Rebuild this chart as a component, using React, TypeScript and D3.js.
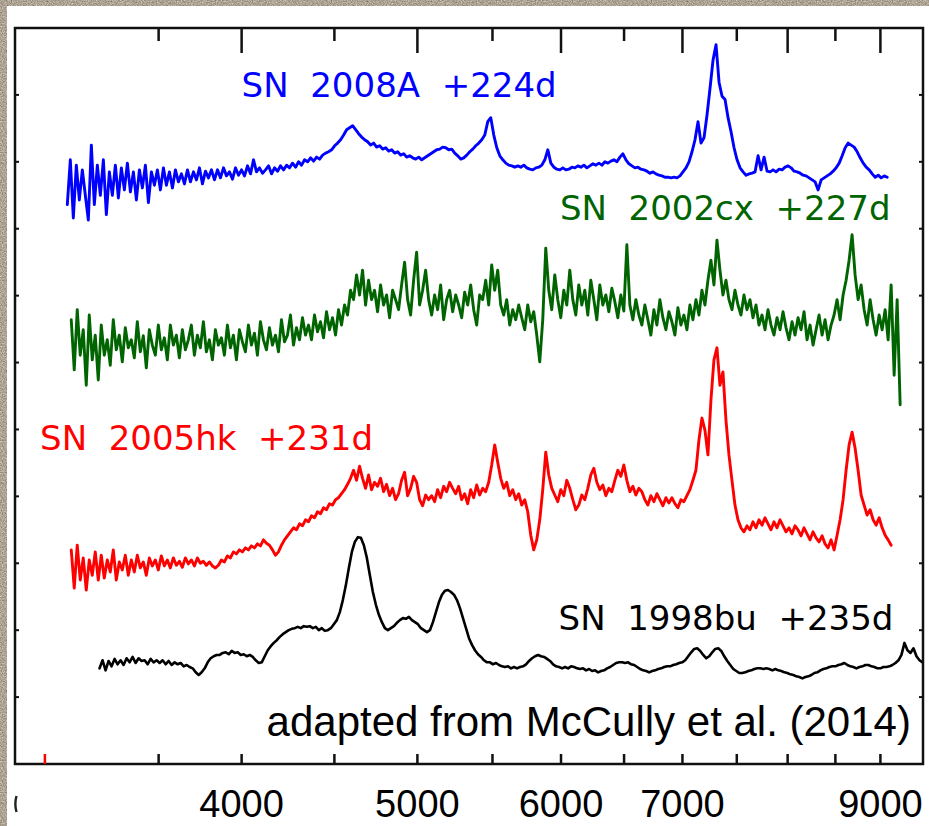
import React from 'react';
import * as d3 from 'd3';

// Late-time spectra, resampled onto a common log-wavelength grid
// (constant velocity step). Flux is scaled and offset for display.
const C_KMS = 299792.458;
const VELOCITY_STEP_KMS = 1143;

const spectrumLabels = ['SN  2008A  +224d', 'SN  2002cx  +227d', 'SN  2005hk  +231d', 'SN  1998bu  +235d'];
const spectrumColors = ['#0000ff', '#006400', '#ff0000', '#000000'];
const spectrumStartWave = [3206, 3222, 3222, 3340];

const flux2008A = [
  8.36, 9.03, 8.16, 8.95, 8.43, 8.88, 8.50, 8.13, 9.25, 8.36,
  8.95, 8.50, 9.03, 8.21, 8.85, 8.50, 8.95, 8.46, 8.91, 8.58,
  8.98, 8.55, 8.85, 8.43, 8.88, 8.61, 8.95, 8.39, 8.85, 8.65,
  8.88, 8.58, 8.91, 8.65, 8.85, 8.61, 8.88, 8.70, 8.82, 8.67,
  8.88, 8.70, 8.85, 8.73, 8.91, 8.67, 8.86, 8.76, 8.88, 8.73,
  8.88, 8.76, 8.91, 8.79, 8.85, 8.74, 8.91, 8.80, 8.88, 8.79,
  8.94, 8.82, 9.03, 8.85, 8.91, 8.83, 8.88, 8.94, 8.82, 8.91,
  8.86, 8.94, 8.88, 8.95, 8.91, 8.98, 8.92, 9.00, 8.95, 9.03,
  9.00, 9.06, 9.01, 9.07, 9.04, 9.10, 9.13, 9.15, 9.18, 9.24,
  9.28, 9.33, 9.40, 9.48, 9.51, 9.54, 9.48, 9.42, 9.37, 9.33,
  9.30, 9.25, 9.28, 9.22, 9.24, 9.19, 9.21, 9.16, 9.18, 9.13,
  9.15, 9.10, 9.12, 9.07, 9.09, 9.06, 9.04, 9.07, 9.03, 9.06,
  9.09, 9.12, 9.15, 9.18, 9.19, 9.22, 9.21, 9.18, 9.19, 9.13,
  9.09, 9.04, 9.06, 9.10, 9.15, 9.19, 9.24, 9.28, 9.33, 9.40,
  9.60, 9.66, 9.40, 9.21, 9.09, 9.03, 8.98, 8.95, 8.94, 8.92,
  8.94, 8.92, 8.95, 8.91, 8.89, 8.88, 8.91, 8.92, 8.95, 9.03,
  9.18, 8.98, 8.92, 8.89, 8.88, 8.91, 8.88, 8.89, 8.92, 8.91,
  8.94, 8.92, 8.95, 8.91, 8.94, 8.97, 8.95, 8.98, 8.95, 9.00,
  8.98, 9.01, 9.03, 9.00, 9.07, 9.12, 9.03, 8.97, 8.94, 8.91,
  8.92, 8.89, 8.88, 8.86, 8.83, 8.85, 8.82, 8.80, 8.79, 8.77,
  8.77, 8.76, 8.77, 8.76, 8.79, 8.85, 8.91, 9.00, 9.15, 9.33,
  9.60, 9.28, 9.36, 9.70, 10.10, 10.52, 10.75, 10.19, 9.98, 9.93,
  9.66, 9.45, 9.21, 9.03, 8.91, 8.85, 8.80, 8.82, 8.83, 8.85,
  9.09, 8.88, 9.07, 8.86, 8.85, 8.88, 8.85, 8.89, 8.88, 8.92,
  8.94, 8.91, 8.86, 8.85, 8.83, 8.80, 8.79, 8.76, 8.73, 8.70,
  8.58, 8.73, 8.76, 8.79, 8.82, 8.86, 8.91, 8.98, 9.09, 9.21,
  9.28, 9.25, 9.22, 9.15, 9.06, 8.98, 8.92, 8.88, 8.82, 8.77,
  8.80, 8.76, 8.79, 8.77,
];

const flux2002cx = [
  6.64, 5.89, 6.79, 6.11, 6.49, 5.66, 6.71, 6.04, 6.41, 5.74,
  6.56, 6.11, 6.34, 5.96, 6.64, 6.19, 6.41, 6.01, 6.52, 6.22,
  6.34, 6.07, 6.61, 6.16, 6.40, 5.92, 6.49, 6.26, 6.11, 6.56,
  6.19, 6.37, 6.04, 6.56, 6.26, 6.41, 6.07, 6.49, 6.19, 6.34,
  6.56, 6.11, 6.41, 6.22, 6.61, 6.16, 6.34, 6.04, 6.49, 6.26,
  6.37, 6.11, 6.56, 6.22, 6.41, 6.04, 6.49, 6.31, 6.16, 6.56,
  6.26, 6.44, 6.11, 6.61, 6.34, 6.19, 6.52, 6.26, 6.41, 6.16,
  6.64, 6.31, 6.41, 6.71, 6.26, 6.52, 6.34, 6.67, 6.41, 6.56,
  6.34, 6.71, 6.46, 6.61, 6.37, 6.76, 6.49, 6.67, 6.41, 6.79,
  6.56, 6.86, 6.71, 7.08, 6.94, 7.31, 7.01, 7.38, 6.86, 7.23,
  6.94, 7.08, 6.76, 7.16, 6.86, 7.01, 6.67, 7.08, 6.94, 6.79,
  7.16, 7.50, 6.94, 6.71, 7.23, 7.65, 6.86, 7.08, 7.38, 6.94,
  6.71, 7.01, 6.79, 7.16, 6.64, 6.94, 7.08, 6.76, 7.01, 6.86,
  6.67, 7.05, 6.86, 7.16, 6.79, 6.56, 7.01, 6.94, 7.23, 6.86,
  7.46, 7.08, 7.38, 6.86, 6.71, 6.94, 6.56, 6.79, 6.64, 6.86,
  6.67, 6.49, 6.86, 6.61, 6.76, 6.41, 6.01, 6.64, 7.71, 7.08,
  6.79, 7.31, 6.94, 6.67, 7.08, 6.86, 7.38, 6.94, 6.71, 7.16,
  6.86, 7.08, 6.71, 7.23, 6.94, 6.64, 7.16, 6.86, 7.01, 6.76,
  7.11, 6.91, 6.67, 7.01, 6.77, 7.76, 6.86, 6.64, 6.94, 6.71,
  6.56, 6.86, 6.64, 6.41, 6.79, 6.56, 6.94, 6.67, 6.49, 6.76,
  6.61, 6.41, 6.82, 6.56, 6.71, 6.49, 6.86, 6.64, 6.94, 6.71,
  7.08, 6.86, 7.23, 7.53, 7.16, 7.83, 7.38, 7.01, 7.23, 6.94,
  6.79, 7.08, 6.86, 6.71, 7.01, 6.79, 6.94, 6.67, 6.86, 6.56,
  6.71, 6.49, 6.79, 6.56, 6.41, 6.67, 6.49, 6.76, 6.52, 6.34,
  6.61, 6.41, 6.67, 6.49, 6.76, 6.34, 6.56, 6.26, 6.49, 6.71,
  6.41, 6.64, 6.34, 6.56, 6.71, 6.94, 6.64, 7.01, 7.23, 7.53,
  7.91, 7.31, 6.94, 7.16, 6.79, 6.56, 6.94, 6.64, 6.41, 6.71,
  6.49, 6.79, 6.34, 7.16, 5.81, 6.94, 5.37,
];

const flux2005hk = [
  3.20, 2.63, 3.27, 2.75, 3.08, 2.60, 3.05, 2.82, 3.17, 2.75,
  3.12, 2.78, 3.05, 2.87, 3.20, 2.75, 3.02, 2.90, 3.12, 2.82,
  3.05, 2.87, 3.12, 2.93, 3.02, 2.82, 3.08, 2.96, 3.05, 2.90,
  3.11, 2.96, 3.05, 2.93, 3.08, 2.97, 3.03, 2.94, 3.08, 2.99,
  3.05, 2.96, 3.08, 3.00, 3.03, 2.97, 3.02, 2.96, 2.93, 2.97,
  3.05, 3.02, 3.11, 3.08, 3.17, 3.14, 3.20, 3.17, 3.23, 3.20,
  3.26, 3.23, 3.29, 3.26, 3.35, 3.30, 3.27, 3.20, 3.12, 3.17,
  3.27, 3.35, 3.41, 3.47, 3.53, 3.50, 3.59, 3.56, 3.65, 3.62,
  3.71, 3.68, 3.77, 3.74, 3.83, 3.80, 3.89, 3.87, 3.95, 3.98,
  4.04, 4.10, 4.18, 4.27, 4.39, 4.24, 4.45, 4.27, 4.12, 4.32,
  4.10, 4.21, 4.15, 4.27, 4.07, 4.18, 4.01, 4.12, 3.95, 4.04,
  4.24, 4.36, 4.01, 4.12, 4.30, 4.21, 3.95, 3.86, 4.02, 3.95,
  4.01, 3.92, 4.10, 3.98, 4.15, 4.07, 4.21, 4.12, 4.04, 4.15,
  3.95, 4.04, 3.89, 4.10, 3.98, 4.17, 4.02, 4.12, 4.07, 4.21,
  4.47, 4.77, 4.51, 4.27, 4.12, 4.21, 4.01, 4.10, 3.95, 4.04,
  3.87, 3.95, 3.77, 3.42, 3.20, 3.35, 3.65, 4.10, 4.66, 4.32,
  4.12, 4.02, 3.92, 4.10, 4.01, 4.24, 4.12, 3.95, 3.80, 3.87,
  4.02, 3.95, 4.12, 4.32, 4.42, 4.21, 4.10, 4.17, 4.01, 4.12,
  4.07, 4.24, 4.39, 4.30, 4.47, 4.24, 4.07, 4.15, 4.02, 4.12,
  4.07, 3.95, 3.87, 4.01, 3.92, 4.04, 3.95, 3.86, 3.98, 3.90,
  3.98, 3.89, 3.83, 3.95, 3.92, 4.01, 4.10, 4.24, 4.39, 4.84,
  5.17, 4.99, 4.62, 5.44, 6.04, 6.22, 5.66, 5.86, 5.14, 4.62,
  4.24, 3.87, 3.65, 3.53, 3.47, 3.56, 3.50, 3.62, 3.53, 3.65,
  3.57, 3.68, 3.59, 3.50, 3.62, 3.53, 3.65, 3.56, 3.47, 3.53,
  3.44, 3.56, 3.50, 3.41, 3.53, 3.44, 3.35, 3.47, 3.38, 3.32,
  3.41, 3.29, 3.23, 3.35, 3.20, 3.42, 3.65, 3.95, 4.39, 4.77,
  4.96, 4.72, 4.39, 4.02, 3.87, 3.72, 3.80, 3.65, 3.57, 3.68,
  3.53, 3.42, 3.35, 3.27,
];

const flux1998bu = [
  1.43, 1.55, 1.40, 1.54, 1.46, 1.57, 1.49, 1.55, 1.48, 1.58,
  1.52, 1.60, 1.51, 1.58, 1.54, 1.55, 1.49, 1.57, 1.52, 1.55,
  1.51, 1.55, 1.49, 1.54, 1.48, 1.52, 1.49, 1.51, 1.46, 1.48,
  1.45, 1.43, 1.37, 1.33, 1.37, 1.43, 1.52, 1.58, 1.61, 1.63,
  1.63, 1.66, 1.67, 1.64, 1.69, 1.66, 1.67, 1.63, 1.64, 1.61,
  1.63, 1.60, 1.55, 1.51, 1.52, 1.61, 1.70, 1.76, 1.81, 1.85,
  1.90, 1.94, 1.97, 2.00, 2.02, 2.03, 2.05, 2.03, 2.06, 2.05,
  2.06, 2.03, 2.05, 2.00, 2.03, 1.99, 2.00, 2.03, 2.09, 2.15,
  2.27, 2.45, 2.67, 2.93, 3.17, 3.32, 3.39, 3.38, 3.27, 3.08,
  2.82, 2.57, 2.38, 2.23, 2.12, 2.03, 2.00, 2.03, 2.06, 2.11,
  2.15, 2.18, 2.17, 2.20, 2.15, 2.12, 2.09, 2.03, 2.00, 1.97,
  2.00, 2.12, 2.27, 2.42, 2.53, 2.59, 2.60, 2.57, 2.53, 2.45,
  2.33, 2.18, 2.03, 1.88, 1.78, 1.70, 1.64, 1.60, 1.55, 1.52,
  1.52, 1.49, 1.51, 1.48, 1.46, 1.45, 1.46, 1.43, 1.45, 1.43,
  1.45, 1.46, 1.49, 1.54, 1.58, 1.61, 1.63, 1.61, 1.60, 1.57,
  1.54, 1.49, 1.46, 1.45, 1.43, 1.45, 1.43, 1.46, 1.45, 1.43,
  1.42, 1.43, 1.40, 1.42, 1.39, 1.40, 1.37, 1.39, 1.40, 1.43,
  1.45, 1.48, 1.51, 1.52, 1.52, 1.51, 1.52, 1.49, 1.48, 1.45,
  1.42, 1.40, 1.39, 1.37, 1.39, 1.40, 1.42, 1.43, 1.45, 1.46,
  1.46, 1.48, 1.49, 1.51, 1.52, 1.55, 1.61, 1.67, 1.72, 1.73,
  1.69, 1.63, 1.58, 1.61, 1.67, 1.72, 1.73, 1.69, 1.61, 1.54,
  1.48, 1.42, 1.39, 1.36, 1.36, 1.37, 1.39, 1.40, 1.42, 1.43,
  1.43, 1.42, 1.43, 1.42, 1.40, 1.42, 1.40, 1.39, 1.37, 1.36,
  1.34, 1.33, 1.31, 1.30, 1.28, 1.30, 1.31, 1.33, 1.36, 1.37,
  1.40, 1.42, 1.43, 1.45, 1.46, 1.46, 1.48, 1.49, 1.51, 1.48,
  1.46, 1.45, 1.43, 1.45, 1.46, 1.48, 1.48, 1.46, 1.45, 1.43,
  1.43, 1.45, 1.45, 1.46, 1.48, 1.51, 1.55, 1.63, 1.81, 1.70,
  1.66, 1.73, 1.61, 1.55, 1.52, 1.49,
];

const spectrumFlux = [flux2008A, flux2002cx, flux2005hk, flux1998bu];

// Axis ticks (wavelength in Angstrom)
const waveMajorTicks = [4000, 5000, 6000, 7000, 8000, 9000];
const waveMinorTicks = [3600, 4500, 5500, 6500, 7500, 8500];
const waveTickLabels = [4000, 5000, 6000, 7000, 9000];
const fluxTicks = [1, 2, 3, 4, 5, 6, 7, 8, 9, 10];
const markerWave = 3116;
const creditText = 'adapted from McCully et al. (2014)';

const W = 929;
const H = 826;

export default function App() {
  const x = d3.scaleLog().domain([3000, 9500]).range([15, 923]);
  const y = d3.scaleLinear().domain([0, 11]).range([764, 28]);
  const [x0, x1] = x.range();
  const [yb, yt] = y.range();

  const dlnw = VELOCITY_STEP_KMS / C_KMS;
  const paths = spectrumFlux.map((flux, s) => {
    const w0 = spectrumStartWave[s];
    const line = d3
      .line<number>()
      .x((_, i) => x(w0 * Math.exp(i * dlnw)))
      .y((d) => y(d));
    return line(flux) as string;
  });

  // Label anchors in data coordinates
  const labelPos = [
    { w: 4000, f: 9.97, anchor: 'start' },
    { w: 9116, f: 8.13, anchor: 'end' },
    { w: 3097, f: 4.69, anchor: 'start' },
    { w: 9150, f: 2.0, anchor: 'end' },
  ];

  const tickStroke = '#111';
  const sw = 2.5;

  // remnant of the clipped 3000 label at the left edge
  const edgeGlyph = d3.path();
  edgeGlyph.moveTo(x0 + 1.5, 796);
  edgeGlyph.quadraticCurveTo(x0 - 0.8, 804, x0 + 1.5, 812);

  return (
    <svg
      width={W}
      height={H}
      viewBox={`0 0 ${W} ${H}`}
      style={{ position: 'absolute', left: 0, top: 0, display: 'block' }}
    >
      <defs>
        <filter id="stone" x="0" y="0" width="100%" height="100%" colorInterpolationFilters="sRGB">
          <feTurbulence type="fractalNoise" baseFrequency="0.8" numOctaves="3" seed="7" result="n" />
          <feColorMatrix
            in="n"
            type="matrix"
            values="0.5 0 0 0 0.43  0.5 0 0 0 0.39  0.5 0 0 0 0.33  0 0 0 0 1"
          />
        </filter>
        <clipPath id="plotClip">
          <rect x={x0} y={yt} width={x1 - x0} height={yb - yt} />
        </clipPath>
      </defs>

      {/* textured surround */}
      <rect x={0} y={0} width={W} height={H} fill="#aaa194" filter="url(#stone)" />
      <rect x={7} y={6} width={W - 7} height={H - 6} fill="#ffffff" />

      {/* spectra */}
      <g clipPath="url(#plotClip)" fill="none" strokeLinejoin="round" strokeLinecap="round">
        {paths.map((d, i) => (
          <path key={i} d={d} stroke={spectrumColors[i]} strokeWidth={i === 3 ? 2.6 : 2.9} />
        ))}
      </g>

      {/* spectrum labels */}
      {spectrumLabels.map((t, i) => (
        <text
          key={t}
          x={x(labelPos[i].w)}
          y={y(labelPos[i].f)}
          textAnchor={labelPos[i].anchor as any}
          fill={spectrumColors[i]}
          fontFamily="'DejaVu Sans', sans-serif"
          fontSize={34}
          xmlSpace="preserve"
          style={{ whiteSpace: 'pre' }}
        >
          {t}
        </text>
      ))}

      <text
        x={x(4129)}
        y={y(0.42)}
        fill="#000"
        fontFamily="'Liberation Sans', Arial, sans-serif"
        fontSize={42}
      >
        {creditText}
      </text>

      {/* frame */}
      <rect x={x0} y={yt} width={x1 - x0} height={yb - yt} fill="none" stroke={tickStroke} strokeWidth={sw} />

      {/* top ticks */}
      {waveMajorTicks.map((t) => (
        <line key={'tM' + t} x1={x(t)} x2={x(t)} y1={yt} y2={yt + 25} stroke={tickStroke} strokeWidth={sw} />
      ))}
      {waveMinorTicks.map((t) => (
        <line key={'tm' + t} x1={x(t)} x2={x(t)} y1={yt} y2={yt + 13} stroke={tickStroke} strokeWidth={sw} />
      ))}
      {/* bottom ticks */}
      {[...waveMinorTicks, ...waveMajorTicks].map((t) => (
        <line key={'b' + t} x1={x(t)} x2={x(t)} y1={yb} y2={yb - 10} stroke={tickStroke} strokeWidth={sw} />
      ))}
      <line x1={x(markerWave)} x2={x(markerWave)} y1={yb} y2={yb - 10} stroke="#ff0000" strokeWidth={sw} />

      {/* flux ticks, both sides */}
      {fluxTicks.map((t) => (
        <g key={'f' + t}>
          <line x1={x0} x2={x0 + 4} y1={y(t)} y2={y(t)} stroke={tickStroke} strokeWidth={2} />
          <line x1={x1} x2={x1 - 4} y1={y(t)} y2={y(t)} stroke={tickStroke} strokeWidth={2} />
        </g>
      ))}

      {/* tick labels */}
      {waveTickLabels.map((t) => (
        <text
          key={'l' + t}
          x={x(t)}
          y={817}
          textAnchor="middle"
          fontFamily="'Liberation Sans', Arial, sans-serif"
          fontSize={38}
          fill="#000"
        >
          {t}
        </text>
      ))}
      <path d={edgeGlyph.toString()} fill="none" stroke="#222" strokeWidth={2.4} />
    </svg>
  );
}
